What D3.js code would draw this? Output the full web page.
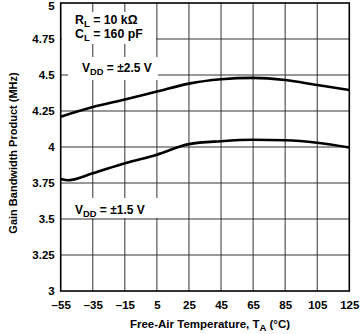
<!DOCTYPE html>
<html><head><meta charset="utf-8">
<script src="https://cdn.jsdelivr.net/npm/d3@7"></script>
<style>
html,body{margin:0;padding:0;background:#fff;}
svg text{font-family:"Liberation Sans",Arial,Helvetica,sans-serif;font-weight:bold;fill:#000;}
</style></head>
<body><div id="chart"></div>
<script>
// Data
const xTicks = [-55,-35,-15,5,25,45,65,85,105,125];
const yTicks = [3,3.25,3.5,3.75,4,4.25,4.5,4.75,5];
const yTickLabels = ["3","3.25","3.5","3.75","4","4.25","4.5","4.75","5"];
const temps25 = [-55,-35,-15,5,25,45,65,85,105,125];
const gbp25 = [4.21,4.277,4.33,4.385,4.44,4.47,4.48,4.465,4.43,4.396];
const temps15 = [-55,-50,-35,-15,5,25,45,65,85,105,125];
const gbp15 = [3.778,3.769,3.817,3.887,3.947,4.02,4.04,4.05,4.047,4.03,3.997];

const W = 361, H = 334;
const m = {left:60.7, right:361-349.3, top:3, bottom:334-291};
const svg = d3.select("#chart").append("svg").attr("width",W).attr("height",H);

const x = d3.scaleLinear().domain([-55,125]).range([m.left, W-m.right]);
const y = d3.scaleLinear().domain([3,5]).range([H-m.bottom, m.top]);

// gridlines
const g = svg.append("g");
g.selectAll("line.v").data(xTicks.slice(1,-1)).join("line")
  .attr("x1",d=>x(d)).attr("x2",d=>x(d)).attr("y1",y(3)).attr("y2",y(5))
  .attr("stroke","#333").attr("stroke-width",1);
g.selectAll("line.h").data(yTicks.slice(1,-1)).join("line")
  .attr("y1",d=>y(d)).attr("y2",d=>y(d)).attr("x1",x(-55)).attr("x2",x(125))
  .attr("stroke","#333").attr("stroke-width",1);

// white label backgrounds
const bg = [[62,12,94,32],[68,57,90,23],[62,198,96,20]];
svg.selectAll("rect.bg").data(bg).join("rect")
  .attr("x",d=>d[0]).attr("y",d=>d[1]).attr("width",d=>d[2]).attr("height",d=>d[3])
  .attr("fill","#fff");

// frame
svg.append("rect").attr("x",x(-55)).attr("y",y(5))
  .attr("width",x(125)-x(-55)).attr("height",y(3)-y(5))
  .attr("fill","none").attr("stroke","#000").attr("stroke-width",1.6);

// axes labels
const xAxis = d3.axisBottom(x).tickValues(xTicks).tickSize(0).tickPadding(10)
  .tickFormat(d=>d<0?"\u2013"+Math.abs(d):String(d));
const xa = svg.append("g").attr("transform",`translate(0,${y(3)})`).call(xAxis);
xa.select(".domain").remove();
xa.selectAll("text").attr("font-size",11.5).attr("font-family",null).attr("font-weight","bold");

const yAxis = d3.axisLeft(y).tickValues(yTicks).tickSize(0).tickPadding(6)
  .tickFormat((d,i)=>yTickLabels[i]);
const ya = svg.append("g").attr("transform",`translate(${x(-55)},0)`).call(yAxis);
ya.select(".domain").remove();
ya.selectAll("text").attr("font-size",11.5).attr("font-family",null).attr("font-weight","bold");
ya.selectAll(".tick").filter(d=>d===5).select("text").attr("dy","0.32em").attr("y",2.5);

// curves
const line = d3.line().x(d=>x(d[0])).y(d=>y(d[1])).curve(d3.curveMonotoneX);
svg.append("path").datum(d3.zip(temps25,gbp25)).attr("d",line)
  .attr("fill","none").attr("stroke","#000").attr("stroke-width",2.6);
svg.append("path").datum(d3.zip(temps15,gbp15)).attr("d",line)
  .attr("fill","none").attr("stroke","#000").attr("stroke-width",2.6);

// annotations
function label(xp, yp, parts, size){
  const t = svg.append("text").attr("x",xp).attr("y",yp).attr("font-size",size);
  parts.forEach(p=>{
    if(p.sub){
      t.append("tspan").attr("font-size",size*0.78).attr("dy",3).text(p.t);
    } else {
      t.append("tspan").attr("dy",p.back?-3:0).text(p.t);
    }
  });
  return t;
}
label(75,23.5,[{t:"R"},{t:"L",sub:true},{t:" = 10 k\u03A9",back:true}],12.3);
label(75,37.5,[{t:"C"},{t:"L",sub:true},{t:" = 160 pF",back:true}],12.3);
label(82,72,[{t:"V"},{t:"DD",sub:true},{t:" = \u00B12.5 V",back:true}],12);
label(75,213.5,[{t:"V"},{t:"DD",sub:true},{t:" = \u00B11.5 V",back:true}],12);

// axis titles
const xt = svg.append("text").attr("x",210).attr("y",328).attr("text-anchor","middle").attr("font-size",11.5);
xt.append("tspan").text("Free-Air Temperature, T");
xt.append("tspan").attr("font-size",9.5).attr("dy",3).text("A");
xt.append("tspan").attr("dy",-3).text("  (\u00B0C)");

svg.append("text").attr("transform","translate(16.5,153) rotate(-90)")
  .attr("text-anchor","middle").attr("font-size",11)
  .text("Gain Bandwidth Product (MHz)");
</script></body></html>
